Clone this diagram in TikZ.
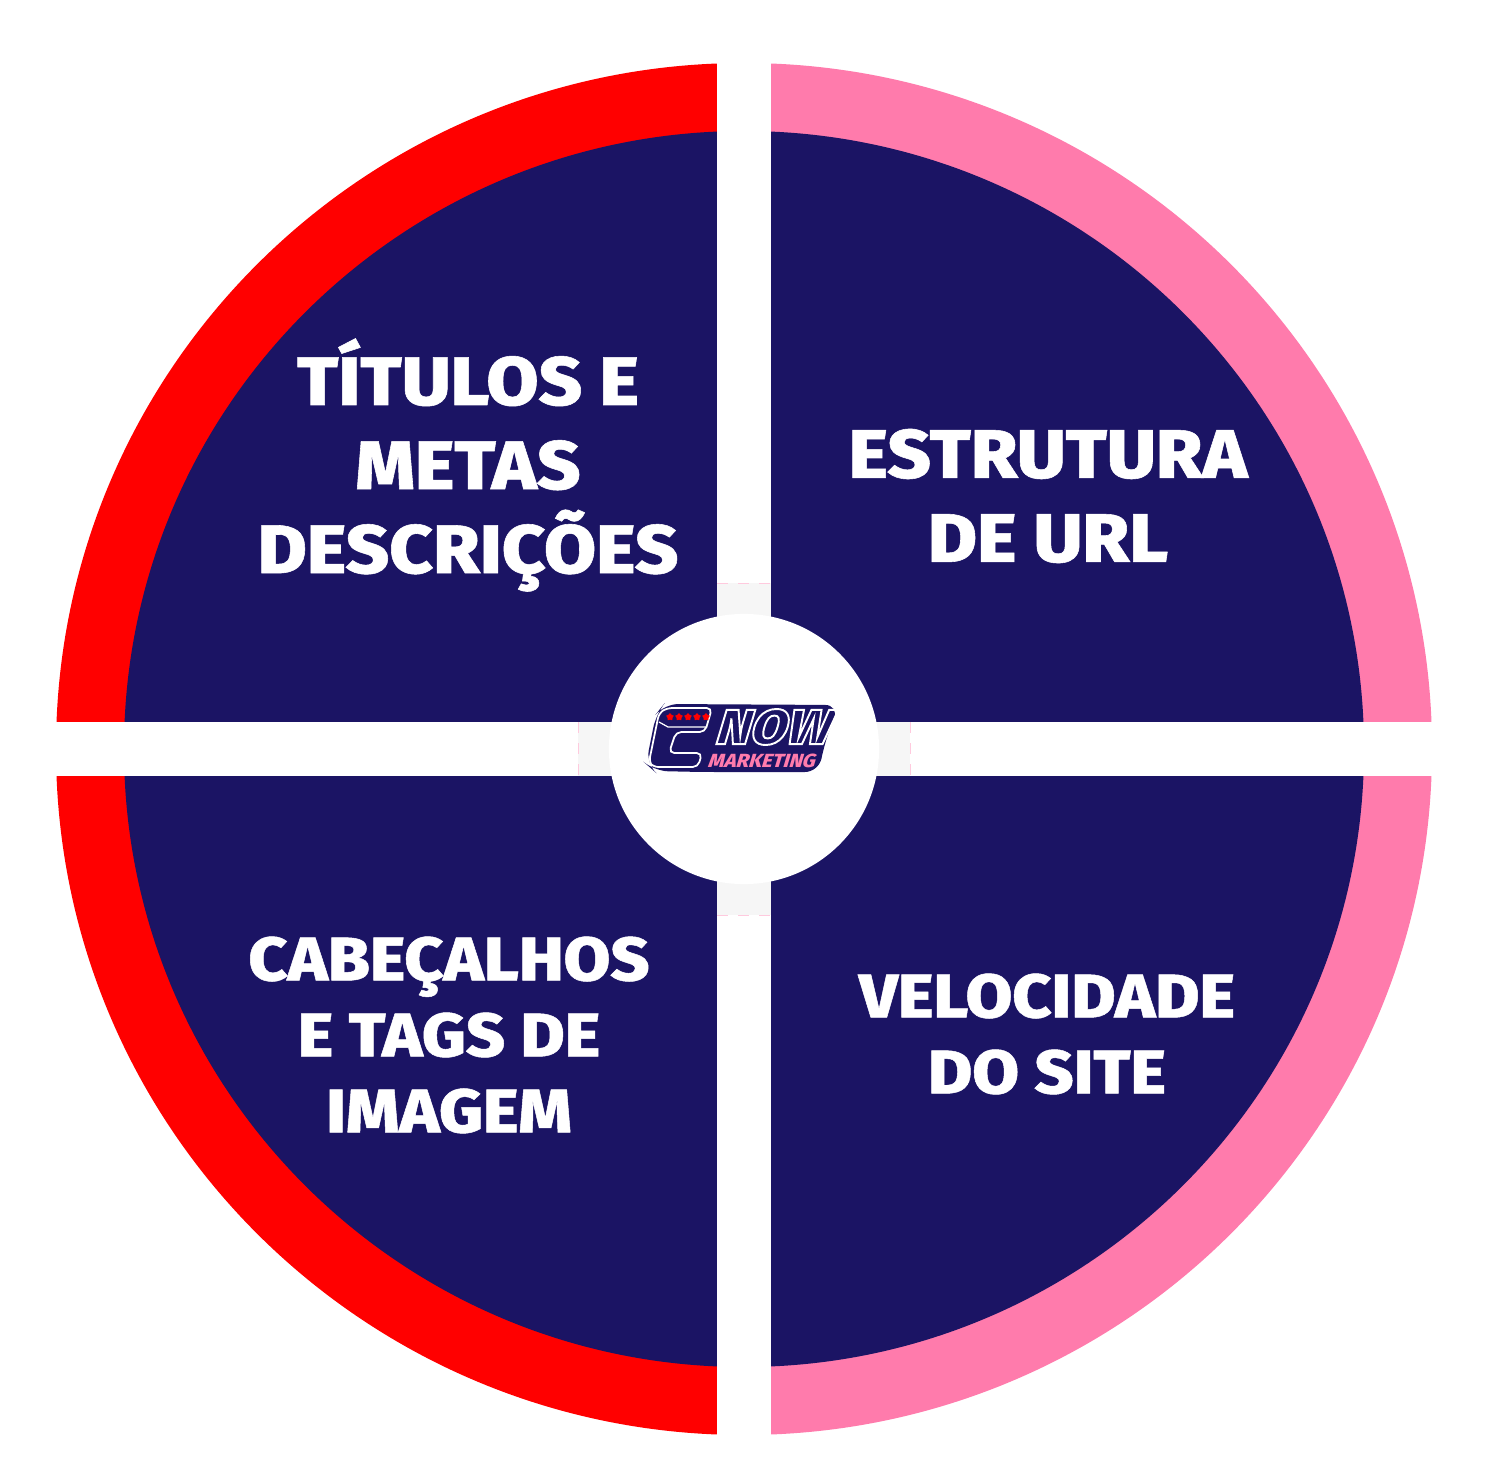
\documentclass[tikz,border=0pt]{standalone}
\usepackage{fontspec}
\usepackage{tikz}
\usetikzlibrary{shapes.geometric}
\newfontfamily\labelfont[FakeStretch=1.1,FakeBold=0.8]{Fira Sans ExtraBold}
\newfontfamily\logofont[FakeSlant=0.3,FakeStretch=1.06]{Fira Sans ExtraBold}
\definecolor{red1}{RGB}{255,0,0}
\definecolor{pink1}{RGB}{255,123,172}
\definecolor{navy1}{RGB}{27,20,100}
\definecolor{gray1}{RGB}{246,246,246}
\tikzset{
  biglabel/.style={text=white,align=center,inner sep=0pt,font=\labelfont\fontsize{19.5}{23.9}\selectfont},
  smalllabel/.style={text=white,align=center,inner sep=0pt,font=\labelfont\fontsize{17.5}{21.6}\selectfont},
  palepatch/.style={fill=gray1},
  paleend/.style={draw=pink1!40,dash pattern=on 3pt off 3pt,line width=0.2pt}
}
\begin{document}
\begin{tikzpicture}[x=0.01cm,y=0.01cm]

\def\Rx{688}
\def\Ry{686}
\def\rx{620}
\def\ry{618}
\def\gap{27}
\def\rc{134}

\useasboundingbox (-744,749) rectangle (754,-730);

\begin{scope}
\clip (-744,749) rectangle (0,-730);
\fill [red1] (0,0) ellipse ({\Rx} and {\Ry});
\end{scope}
\begin{scope}
\clip (0,749) rectangle (754,-730);
\fill [pink1] (0,0) ellipse ({\Rx} and {\Ry});
\end{scope}
\fill [navy1] (0,0) ellipse ({\rx} and {\ry});

\fill [white] (-\gap,700) rectangle (\gap,-700);
\fill [white] (-700,\gap) rectangle (700,-\gap);

\fill [palepatch] (-\gap,166) rectangle (\gap,100);
\fill [palepatch] (-\gap,-166) rectangle (\gap,-100);
\fill [palepatch] (-166,\gap) rectangle (-100,-\gap);
\fill [palepatch] (166,\gap) rectangle (100,-\gap);
\draw [paleend] (-\gap,166) -- (\gap,166);
\draw [paleend] (-\gap,-166) -- (\gap,-166);
\draw [paleend] (-166,\gap) -- (-166,-\gap);
\draw [paleend] (166,\gap) -- (166,-\gap);

\node [circle,fill=white,inner sep=0pt,minimum size=2.7cm] (hub) at (0,0) {};

\node [biglabel] (titulos) at (-276,284) {TÍTULOS E\\METAS\\DESCRIÇÕES};
\node [biglabel] (estrutura) at (304,253) {ESTRUTURA\\DE URL};
\node [smalllabel] (cabecalhos) at (-295,-286) {CABEÇALHOS\\E TAGS DE\\IMAGEM};
\node [smalllabel] (velocidade) at (303,-285) {VELOCIDADE\\DO SITE};

% logo, in pixels of the image
\begin{scope}[shift={(-744,749)},yscale=-1]
\fill [navy1,rounded corners=4] (664,704) -- (839,705) -- (824,745) -- (819,772) -- (702,772) -- (654,771) -- (646,764) -- (656,714) -- cycle;
\draw [white,line width=0.5pt,rounded corners=1.5] (712,708) -- (667,708) -- (659,713) -- (649,762) -- (653,767) -- (698,767) -- (702,753) -- (669,753) -- (676,732) -- (705,732) -- cycle;
\draw [white,line width=0.35pt] (659,722) -- (668,727) -- (707,727);
\foreach \i in {1,...,5}
  \node [star,star points=5,fill=red1,inner sep=0pt,minimum size=0.08cm] (star\i) at (661+9*\i,717) {};
\node [text=white,inner sep=0pt,font=\logofont\fontsize{14}{14}\selectfont] (now) at (771,727) {\special{pdf: code 1 Tr 0.55 w 1 1 1 RG}NOW\special{pdf: code 0 Tr}};
\node [text=pink1,inner sep=0pt,font=\logofont\fontsize{5.4}{6}\selectfont] (marketing) at (761,761) {MARKETING};
\end{scope}

\end{tikzpicture}
\end{document}
